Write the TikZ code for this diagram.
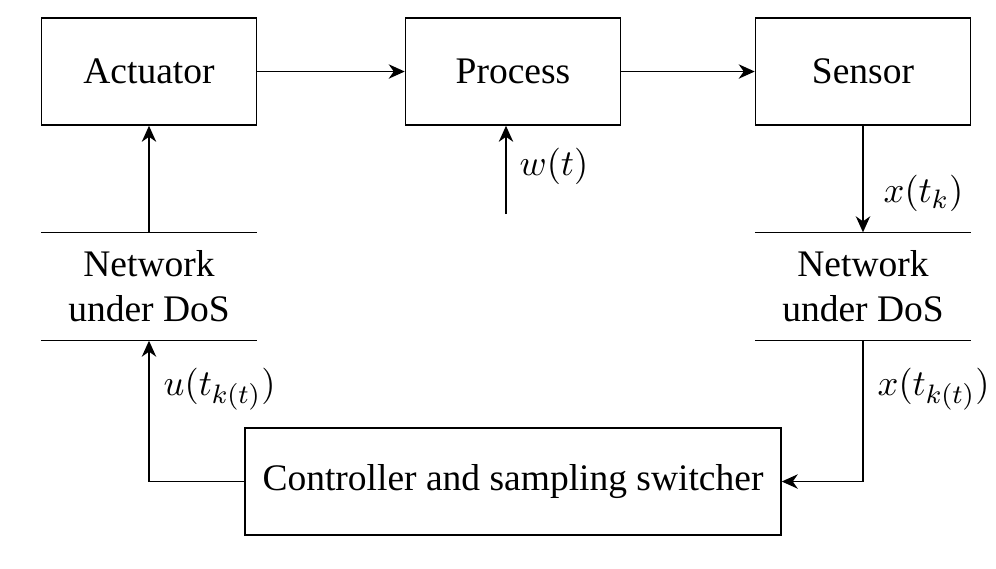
\documentclass[tikz,border=0pt]{standalone}
\usepackage{fontspec}
\setmainfont{Liberation Serif}
\usetikzlibrary{arrows.meta}
\begin{document}
\begin{tikzpicture}[x=0.3pt,y=-0.3pt,
  font=\fontsize{11.25pt}{13.5pt}\selectfont,
  blk/.style={draw,line width=0.45pt,minimum width=64.5pt,minimum height=32.1pt,inner sep=0pt},
  net/.style={minimum width=64.5pt,minimum height=32.1pt,inner sep=0pt,align=center},
  lbl/.style={inner sep=0pt,anchor=west},
  conn/.style={line width=0.55pt,-{Stealth[length=4.8pt,width=4.3pt,inset=1.5pt]}}]
\useasboundingbox (0,0) rectangle (996,568);
\node[blk] (act) at (149,71.5) {Actuator};
\node[blk] (proc) at (513,71.5) {Process};
\node[blk] (sens) at (863,71.5) {Sensor};
\node[net] (netl) at (149,286.5) {Network\\under DoS};
\node[net] (netr) at (863,286.5) {Network\\under DoS};
\draw[line width=0.45pt] (netl.north west) -- (netl.north east) (netl.south west) -- (netl.south east);
\draw[line width=0.45pt] (netr.north west) -- (netr.north east) (netr.south west) -- (netr.south east);
\node[blk,minimum width=160.8pt] (ctrl) at (513,481.5) {Controller and sampling switcher};
\coordinate (win) at (506,214);
\draw[conn] (act) -- (proc);
\draw[conn] (proc) -- (sens);
\draw[conn] (win) -- (win |- proc.south);
\draw[conn] (sens) -- (netr.north);
\draw[conn] (netr.south) |- (ctrl.east);
\draw[conn] (ctrl.west) -| (netl.south);
\draw[conn] (netl.north) -- (act.south);
\node[lbl] (lw) at (519,166) {$w(t)$};
\node[lbl] (lxk) at (883,193) {$x(t_k)$};
\node[lbl] (lxkt) at (877,389) {$x(t_{k(t)})$};
\node[lbl] (lukt) at (163,389) {$u(t_{k(t)})$};
\end{tikzpicture}
\end{document}
